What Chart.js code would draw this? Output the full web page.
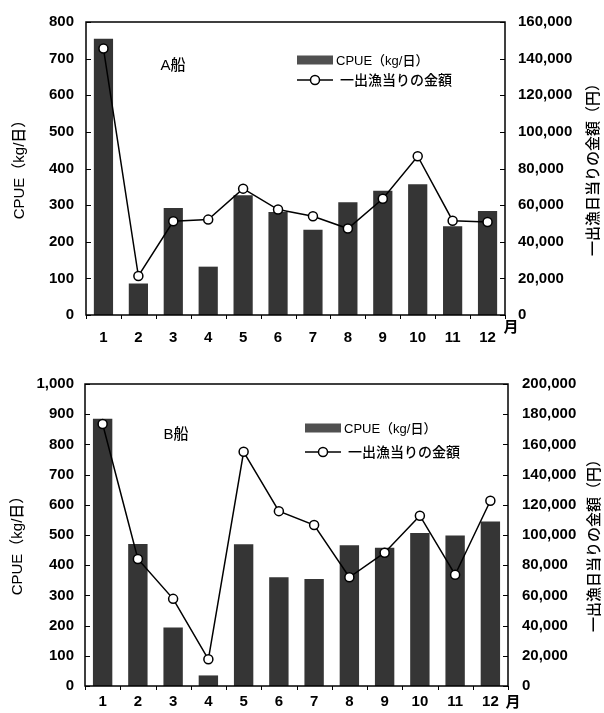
<!DOCTYPE html>
<html>
<head>
<meta charset="utf-8">
<script src="https://cdn.jsdelivr.net/npm/chart.js@4.4.1/dist/chart.umd.min.js"></script>
<style>
  html, body { margin: 0; padding: 0; background: #fff; }
  #wrap { position: relative; width: 604px; height: 713px; overflow: hidden; }
  canvas { position: absolute; left: 0; }
</style>
</head>
<body>
<div id="wrap">
  <canvas id="chartA" width="604" height="356" style="top:0"></canvas>
  <canvas id="chartB" width="604" height="357" style="top:356px"></canvas>
</div>
<script>
// Months on the category axis
const MONTHS = ['1', '2', '3', '4', '5', '6', '7', '8', '9', '10', '11', '12'];

// Vessel A: catch per unit effort (kg/day) and revenue per fishing day (yen)
const CPUE_A   = [754, 86, 292, 132, 327, 281, 233, 308, 339, 357, 242, 284];
const AMOUNT_A = [145500, 21300, 51200, 52100, 69000, 57600, 53900, 47200, 63500, 86700, 51500, 50800];

// Vessel B
const CPUE_B   = [885, 470, 194, 35, 469, 360, 354, 466, 458, 507, 498, 545];
const AMOUNT_B = [173500, 84100, 57700, 17700, 155100, 115800, 106600, 72000, 88300, 112800, 73700, 122700];

// Axis ranges [max, step]
const CPUE_AXIS_A   = [800, 100];
const AMOUNT_AXIS_A = [160000, 20000];
const CPUE_AXIS_B   = [1000, 100];
const AMOUNT_AXIS_B = [200000, 20000];

// Text
const VESSEL_A = 'A船';
const VESSEL_B = 'B船';
const BAR_LABEL = 'CPUE（kg/日）';
const LINE_LABEL = '一出漁当りの金額';
const LEFT_TITLE = 'CPUE（kg/日）';
const RIGHT_TITLE = '一出漁日当りの金額（円）';
const MONTH_UNIT = '月';

const FONT = "'Liberation Sans', Arial, 'Noto Sans CJK JP', sans-serif";
const JP_FONT = "'Liberation Sans', 'Noto Sans CJK JP', sans-serif";
const BAR_FILL = '#353535';
const TICK_FONT = { family: FONT, size: 15, weight: 'bold' };

// Frame, inward ticks, month boundary ticks, legend and free text
const decor = {
  id: 'decor',
  afterDatasetsDraw(chart, args, o) {
    const { ctx, chartArea: a, scales } = chart;
    ctx.save();
    ctx.strokeStyle = '#000';
    ctx.lineWidth = 1.5;
    ctx.strokeRect(a.left, a.top, a.right - a.left, a.bottom - a.top);

    ctx.lineWidth = 1;
    ctx.beginPath();
    scales.y.ticks.forEach(t => {
      const py = Math.round(scales.y.getPixelForValue(t.value)) + 0.5;
      ctx.moveTo(a.left, py); ctx.lineTo(a.left + 5, py);
    });
    scales.y2.ticks.forEach(t => {
      const py = Math.round(scales.y2.getPixelForValue(t.value)) + 0.5;
      ctx.moveTo(a.right, py); ctx.lineTo(a.right - 5, py);
    });
    for (let i = 0; i <= MONTHS.length; i++) {
      const px = Math.round(scales.x.getPixelForValue(i - 0.5)) + 0.5;
      ctx.moveTo(px, a.bottom); ctx.lineTo(px, a.bottom + 4);
    }
    ctx.stroke();

    ctx.fillStyle = '#000';
    ctx.textBaseline = 'middle';

    // vessel name
    ctx.font = '500 15px ' + JP_FONT;
    ctx.textAlign = 'center';
    ctx.fillText(o.vessel, o.vesselX, o.vesselY);

    // month unit
    ctx.font = 'bold 15px ' + JP_FONT;
    ctx.fillText(MONTH_UNIT, o.unitX, o.unitY);

    // legend
    const L = o.legend;
    const ds = chart.data.datasets;
    const barDs = ds.find(d => d.type === 'bar');
    const lineDs = ds.find(d => d.type === 'line');
    ctx.fillStyle = '#505050';
    ctx.fillRect(L.x, L.y1 - 4.5, L.w, 9);
    ctx.fillStyle = '#000';
    ctx.textAlign = 'left';
    ctx.font = '500 13px ' + JP_FONT;
    ctx.fillText(barDs.label, L.x + L.w + 3, L.y1 + 1);
    ctx.font = '500 14px ' + JP_FONT;
    ctx.lineWidth = 1.5;
    ctx.beginPath();
    ctx.moveTo(L.x, L.y2); ctx.lineTo(L.x + L.w, L.y2);
    ctx.stroke();
    ctx.beginPath();
    ctx.arc(L.x + L.w / 2, L.y2, 4.5, 0, Math.PI * 2);
    ctx.fillStyle = '#fff'; ctx.fill(); ctx.stroke();
    ctx.fillStyle = '#000';
    ctx.fillText(lineDs.label, L.x + L.w + 7, L.y2 + 1);

    // axis titles, both read bottom to top
    ctx.font = '500 15px ' + JP_FONT;
    ctx.textAlign = 'center';
    [[LEFT_TITLE, o.leftTitleX], [RIGHT_TITLE, o.rightTitleX]].forEach(([txt, tx]) => {
      ctx.save();
      ctx.translate(tx, o.titleY);
      ctx.rotate(-Math.PI / 2);
      ctx.fillText(txt, 0, 0);
      ctx.restore();
    });
    ctx.restore();
  }
};

function makeChart(id, cpue, amount, cpueAxis, amountAxis, geo, deco) {
  const fit = w => s => { s.width = w; };
  return new Chart(document.getElementById(id), {
    data: {
      labels: MONTHS,
      datasets: [
        {
          type: 'line', label: LINE_LABEL, data: amount, yAxisID: 'y2', order: 0,
          borderColor: '#000', borderWidth: 1.5, tension: 0,
          pointRadius: 4.5, pointBorderWidth: 1.5,
          pointBackgroundColor: '#fff', pointBorderColor: '#000'
        },
        {
          type: 'bar', label: BAR_LABEL, data: cpue, yAxisID: 'y', order: 1,
          backgroundColor: BAR_FILL, borderWidth: 0,
          barPercentage: 0.55, categoryPercentage: 1
        }
      ]
    },
    options: {
      responsive: false,
      animation: false,
      events: [],
      layout: { padding: { top: geo.top, left: 0, right: 0, bottom: 0 } },
      plugins: { legend: { display: false }, tooltip: { enabled: false }, decor: deco },
      scales: {
        x: {
          type: 'category', offset: true,
          grid: { display: false, drawTicks: false }, border: { display: false },
          ticks: { color: '#000', padding: geo.xPad, font: TICK_FONT },
          afterFit: s => { s.height = geo.xHeight; }
        },
        y: {
          position: 'left', min: 0, max: cpueAxis[0],
          grid: { display: false, drawTicks: false }, border: { display: false },
          ticks: { stepSize: cpueAxis[1], color: '#000', padding: geo.yPad, font: TICK_FONT },
          afterFit: fit(geo.left)
        },
        y2: {
          position: 'right', min: 0, max: amountAxis[0],
          grid: { display: false, drawTicks: false }, border: { display: false },
          ticks: { stepSize: amountAxis[1], color: '#000', padding: geo.y2Pad, font: TICK_FONT },
          afterFit: fit(geo.right)
        }
      }
    },
    plugins: [decor]
  });
}

makeChart('chartA', CPUE_A, AMOUNT_A, CPUE_AXIS_A, AMOUNT_AXIS_A,
  { top: 18, left: 86, right: 99, xHeight: 41, xPad: 14, yPad: 12, y2Pad: 13 },
  { vessel: VESSEL_A, vesselX: 173, vesselY: 66, unitX: 511, unitY: 328,
    legend: { x: 297, w: 36, y1: 60, y2: 80 },
    leftTitleX: 20, rightTitleX: 594, titleY: 166 });

makeChart('chartB', CPUE_B, AMOUNT_B, CPUE_AXIS_B, AMOUNT_AXIS_B,
  { top: 28, left: 85, right: 96, xHeight: 27, xPad: 7, yPad: 11, y2Pad: 14 },
  { vessel: VESSEL_B, vesselX: 176, vesselY: 79, unitX: 513, unitY: 347,
    legend: { x: 305, w: 36, y1: 72, y2: 96 },
    leftTitleX: 18, rightTitleX: 595, titleY: 186 });
</script>
</body>
</html>
